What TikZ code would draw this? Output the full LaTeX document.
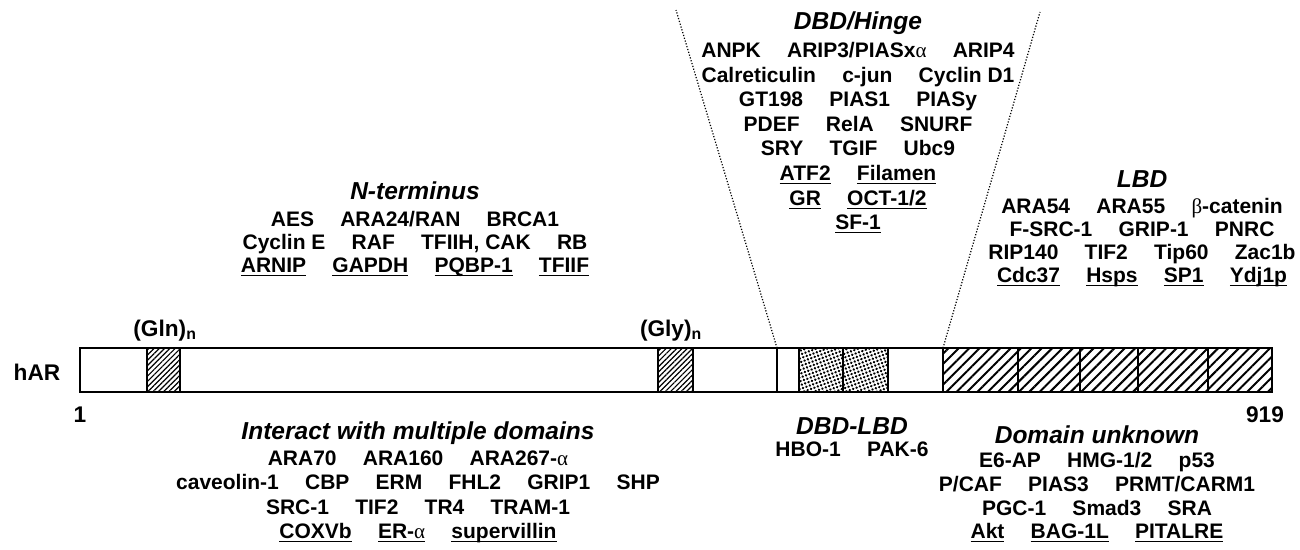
\documentclass[tikz,border=0pt]{standalone}
\usepackage{fontspec}
\setmainfont{Liberation Sans}
\newfontfamily\symfont{Liberation Serif}
\usetikzlibrary{patterns.meta}

% gap between names in a row, underlined names, Greek letters
\newcommand{\gap}{\hspace{1.25em}}
\newcommand{\ulbox}[1]{\leavevmode\setbox0\hbox{#1}\rlap{\rule[-3.2pt]{\wd0}{1.3pt}}\box0}
\newcommand{\galpha}{{\symfont\mdseries α}}
\newcommand{\gbeta}{{\symfont\mdseries β}}

\begin{document}
\begin{tikzpicture}[
    x=0.75pt, y=-0.75pt,
    title/.style={font=\fontsize{18.4}{20}\selectfont\bfseries\itshape, inner sep=0pt, anchor=base}, % block headings
    row/.style={font=\fontsize{15.75}{18}\selectfont\bfseries, inner sep=0pt, anchor=base}, % partner names
    tag/.style={font=\fontsize{17}{19}\selectfont\bfseries, inner sep=0pt, anchor=base}, % hAR, 1, 919, repeats
    hinge/.style={line width=0.9pt, dash pattern=on 0.9pt off 1.3pt}, % dotted funnel
    finehatch/.style={pattern={Lines[angle=45,distance=2.8pt,line width=0.9pt]}},
    widehatch/.style={pattern={Lines[angle=45,distance=5.5pt,line width=1.5pt]}},
    stipple/.style={pattern={Dots[distance=2.7pt,radius=1pt,angle=20]}}
]
    \useasboundingbox (0,0) rectangle (1300,550);

    % Define Coordinates of the receptor bar
    \coordinate (barNW) at (80,348);
    \coordinate (barSE) at (1272,392);
    \coordinate (hingeL) at (777,348);
    \coordinate (hingeR) at (943,348);
    \coordinate (hingeLtop) at (676,10);
    \coordinate (hingeRtop) at (1040,12);

    % Domains inside the bar
    \draw[finehatch, line width=0.9pt] (147,348) rectangle (180,392);
    \draw[finehatch, line width=0.9pt] (658,348) rectangle (693,392);
    \draw[line width=0.9pt] (777,348) -- (777,392);
    \draw[stipple, line width=0.9pt] (799,348) rectangle (843,392);
    \draw[stipple, line width=0.9pt] (843,348) rectangle (888,392);
    \draw[widehatch, line width=0.9pt] (943,348) rectangle (1272,392);
    \draw[line width=0.8pt] (1018,348) -- (1018,392);
    \draw[line width=0.8pt] (1080,348) -- (1080,392);
    \draw[line width=0.8pt] (1138,348) -- (1138,392);
    \draw[line width=0.8pt] (1208,348) -- (1208,392);
    \draw[line width=1.4pt] (barNW) rectangle (barSE);

    % Dotted funnel up to the DBD/Hinge list
    \draw[hinge] (hingeL) -- (hingeLtop);
    \draw[hinge] (hingeR) -- (hingeRtop);

    % Bar labels
    \node[tag] (har) at (37,380) {hAR};
    \node[tag] (first) at (80,422) {1};
    \node[tag] (last) at (1265,422) {919};
    \node[tag] (gln) at (165,336) {(Gln)\textsubscript{n}};
    \node[tag] (gly) at (671,336) {(Gly)\textsubscript{n}};

    % N-terminus
    \node[title] (ntermT) at (415,199) {N-terminus};
    \node[row] (nterm1) at (415,226) {AES\gap ARA24/RAN\gap BRCA1};
    \node[row] (nterm2) at (415,249) {Cyclin E\gap RAF\gap TFIIH, CAK\gap RB};
    \node[row] (nterm3) at (415,272) {\ulbox{ARNIP}\gap \ulbox{GAPDH}\gap \ulbox{PQBP-1}\gap \ulbox{TFIIF}};

    % DBD/Hinge
    \node[title] (hingeT) at (858,29) {DBD/Hinge};
    \node[row] (hinge1) at (858,57) {ANPK\gap ARIP3/PIASx\galpha\gap ARIP4};
    \node[row] (hinge2) at (858,82) {Calreticulin\gap c-jun\gap Cyclin D1};
    \node[row] (hinge3) at (858,106) {GT198\gap PIAS1\gap PIASy};
    \node[row] (hinge4) at (858,131) {PDEF\gap RelA\gap SNURF};
    \node[row] (hinge5) at (858,155) {SRY\gap TGIF\gap Ubc9};
    \node[row] (hinge6) at (858,180) {\ulbox{ATF2}\gap \ulbox{Filamen}};
    \node[row] (hinge7) at (858,205) {\ulbox{GR}\gap \ulbox{OCT-1/2}};
    \node[row] (hinge8) at (858,229) {\ulbox{SF-1}};

    % LBD
    \node[title] (lbdT) at (1142,187) {LBD};
    \node[row] (lbd1) at (1142,213) {ARA54\gap ARA55\gap \gbeta-catenin};
    \node[row] (lbd2) at (1142,236) {F-SRC-1\gap GRIP-1\gap PNRC};
    \node[row] (lbd3) at (1142,259) {RIP140\gap TIF2\gap Tip60\gap Zac1b};
    \node[row] (lbd4) at (1142,282) {\ulbox{Cdc37}\gap \ulbox{Hsps}\gap \ulbox{SP1}\gap \ulbox{Ydj1p}};

    % Interact with multiple domains
    \node[title] (multiT) at (418,439) {Interact with multiple domains};
    \node[row] (multi1) at (418,465) {ARA70\gap ARA160\gap ARA267-\galpha};
    \node[row] (multi2) at (418,489) {caveolin-1\gap CBP\gap ERM\gap FHL2\gap GRIP1\gap SHP};
    \node[row] (multi3) at (418,514) {SRC-1\gap TIF2\gap TR4\gap TRAM-1};
    \node[row] (multi4) at (418,538) {\ulbox{COXVb}\gap \ulbox{ER-\galpha}\gap \ulbox{supervillin}};

    % DBD-LBD
    \node[title] (dlT) at (852,434) {DBD-LBD};
    \node[row] (dl1) at (852,456) {HBO-1\gap PAK-6};

    % Domain unknown
    \node[title] (unkT) at (1097,443) {Domain unknown};
    \node[row] (unk1) at (1097,467) {E6-AP\gap HMG-1/2\gap p53};
    \node[row] (unk2) at (1097,491) {P/CAF\gap PIAS3\gap PRMT/CARM1};
    \node[row] (unk3) at (1097,515) {PGC-1\gap Smad3\gap SRA};
    \node[row] (unk4) at (1097,538) {\ulbox{Akt}\gap \ulbox{BAG-1L}\gap \ulbox{PITALRE}};

\end{tikzpicture}
\end{document}
